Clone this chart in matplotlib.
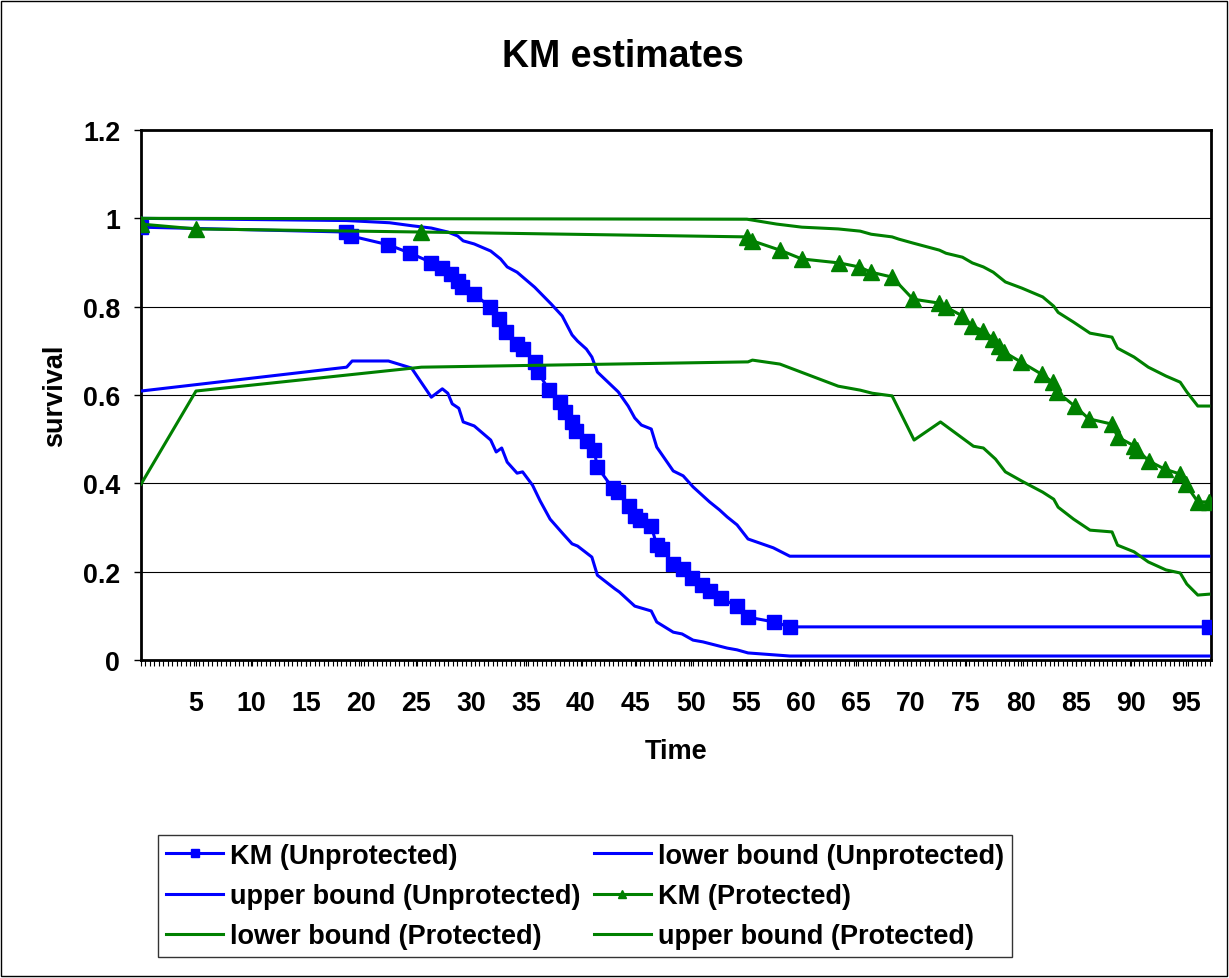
import numpy as np
import matplotlib
matplotlib.use('Agg')
import matplotlib.pyplot as plt
from matplotlib.patches import Rectangle

plt.rcParams['font.family'] = ['Liberation Sans', 'DejaVu Sans']
plt.rcParams['font.weight'] = 'bold'

# KM estimate, unprotected group
km_u_t = [0, 18.6, 19.1, 22.5, 24.5, 26.4, 27.4, 28.2, 28.8, 29.2, 30.3, 31.7,
          32.6, 33.2, 34.2, 34.7, 35.8, 36.1, 37.1, 38.1, 38.6, 39.2, 39.6, 40.6,
          41.2, 41.5, 42.9, 43.4, 44.4, 44.9, 45.4, 46.4, 46.9, 47.4, 48.4, 49.3,
          50.1, 51.0, 51.7, 52.7, 54.2, 55.2, 57.6, 59.0, 97.1]
km_u_s = [0.98, 0.969, 0.96, 0.94, 0.921, 0.90, 0.888, 0.874, 0.858, 0.844, 0.829, 0.80,
          0.772, 0.743, 0.716, 0.704, 0.675, 0.652, 0.611, 0.584, 0.561, 0.539, 0.518, 0.496,
          0.475, 0.437, 0.389, 0.38, 0.349, 0.326, 0.317, 0.303, 0.26, 0.251, 0.217, 0.206,
          0.185, 0.17, 0.156, 0.14, 0.122, 0.097, 0.086, 0.075, 0.075]

lo_u_t = [0, 18.7, 19.2, 22.5, 24.6, 26.4, 27.4, 27.9, 28.3, 28.9, 29.3, 30.3, 31.8,
          32.3, 32.8, 33.3, 34.2, 34.7, 35.6, 36.3, 37.2, 38.4, 39.2, 39.7, 41.0, 41.5,
          43.1, 43.5, 44.9, 46.4, 46.9, 48.4, 49.2, 50.2, 51.1, 53.3, 54.2, 55.2, 59.0, 97.1]
lo_u_s = [0.609, 0.663, 0.677, 0.677, 0.661, 0.595, 0.614, 0.604, 0.58, 0.57, 0.539, 0.53, 0.498,
          0.471, 0.48, 0.448, 0.423, 0.426, 0.396, 0.36, 0.319, 0.285, 0.263, 0.258, 0.233, 0.192,
          0.161, 0.154, 0.122, 0.111, 0.086, 0.063, 0.059, 0.045, 0.041, 0.027, 0.023, 0.016, 0.009, 0.009]

up_u_t = [0, 18.7, 22.6, 24.7, 26.4, 27.9, 28.8, 29.3, 30.3, 31.8, 32.7, 33.3, 34.2,
          35.8, 37.3, 38.3, 39.2, 39.7, 40.5, 41.0, 41.5, 43.4, 44.3, 44.9, 45.5, 46.4,
          46.9, 48.4, 49.3, 50.2, 51.7, 52.6, 53.3, 54.2, 55.2, 57.5, 59.0, 97.1]
up_u_s = [1.0, 0.995, 0.99, 0.983, 0.978, 0.969, 0.96, 0.949, 0.942, 0.926, 0.908, 0.89, 0.878,
          0.844, 0.806, 0.779, 0.736, 0.722, 0.704, 0.686, 0.652, 0.607, 0.575, 0.548, 0.532, 0.523,
          0.482, 0.428, 0.417, 0.392, 0.358, 0.34, 0.324, 0.306, 0.274, 0.254, 0.235, 0.235]

# KM estimate, protected group
km_p_t = [0, 5.0, 25.5, 55.1, 55.6, 58.1, 60.1, 63.5, 65.3, 66.4, 68.3, 70.2, 72.6,
          73.2, 74.7, 75.6, 76.6, 77.5, 78.0, 78.5, 80.0, 81.9, 82.9, 83.3, 84.9, 86.2,
          88.3, 88.8, 90.3, 90.6, 91.7, 93.1, 94.5, 95.0, 96.1, 97.1]
km_p_s = [0.987, 0.976, 0.969, 0.958, 0.949, 0.928, 0.908, 0.899, 0.89, 0.878, 0.867, 0.817, 0.808,
          0.799, 0.779, 0.756, 0.745, 0.727, 0.711, 0.697, 0.675, 0.647, 0.629, 0.607, 0.575, 0.546,
          0.534, 0.505, 0.485, 0.475, 0.45, 0.432, 0.421, 0.398, 0.358, 0.358]

lo_p_t = [0, 5.0, 25.5, 55.2, 55.6, 58.1, 63.4, 65.4, 66.5, 68.3, 70.3, 72.7, 75.7,
          76.6, 77.7, 78.6, 80.1, 82.0, 83.0, 83.4, 84.8, 86.3, 88.3, 88.8, 90.3, 91.6,
          93.2, 94.5, 95.1, 96.1, 97.1]
lo_p_s = [0.398, 0.609, 0.663, 0.675, 0.679, 0.67, 0.62, 0.611, 0.604, 0.598, 0.498, 0.539, 0.484,
          0.48, 0.455, 0.426, 0.405, 0.38, 0.364, 0.346, 0.319, 0.294, 0.29, 0.26, 0.245, 0.222,
          0.204, 0.197, 0.172, 0.147, 0.149]

up_p_t = [0, 55.1, 55.6, 57.8, 60.1, 63.4, 65.4, 66.4, 68.3, 68.9, 70.2, 72.6, 73.2,
          74.7, 75.6, 76.6, 77.5, 78.6, 80.1, 82.0, 83.0, 83.4, 84.8, 86.3, 88.3, 88.8,
          90.3, 91.6, 93.2, 94.5, 95.1, 96.1, 97.1]
up_p_s = [1.0, 0.998, 0.996, 0.987, 0.98, 0.976, 0.971, 0.964, 0.958, 0.953, 0.944, 0.928, 0.921,
          0.912, 0.899, 0.89, 0.878, 0.856, 0.842, 0.822, 0.801, 0.787, 0.765, 0.74, 0.731, 0.706,
          0.686, 0.663, 0.643, 0.629, 0.607, 0.575, 0.575]

x_ticks = list(range(5, 100, 5))
y_ticks = [0, 0.2, 0.4, 0.6, 0.8, 1, 1.2]
y_tick_labels = ['0', '0.2', '0.4', '0.6', '0.8', '1', '1.2']

BLUE = '#0000ff'
GREEN = '#008000'

fig = plt.figure(figsize=(12.29, 9.79), dpi=100)
fig.patch.set_facecolor('white')
ax = fig.add_axes([141 / 1229, 1 - 661 / 979, 1070 / 1229, 530 / 979])

lw = 2.2
h = []
h += ax.plot(km_u_t, km_u_s, color=BLUE, lw=lw, marker='s', ms=10, mec=BLUE, mfc=BLUE,
             label='KM (Unprotected)', zorder=3)
h += ax.plot(lo_u_t, lo_u_s, color=BLUE, lw=lw, label='lower bound (Unprotected)', zorder=3)
h += ax.plot(up_u_t, up_u_s, color=BLUE, lw=lw, label='upper bound (Unprotected)', zorder=3)
h += ax.plot(km_p_t, km_p_s, color=GREEN, lw=lw, marker='^', ms=11, mec=GREEN, mfc=GREEN,
             label='KM (Protected)', zorder=3)
h += ax.plot(lo_p_t, lo_p_s, color=GREEN, lw=lw, label='lower bound (Protected)', zorder=3)
h += ax.plot(up_p_t, up_p_s, color=GREEN, lw=lw, label='upper bound (Protected)', zorder=3)

ax.set_xlim(0, 97.3)
ax.set_ylim(0, 1.2)
ax.set_yticks(y_ticks)
ax.set_yticklabels(y_tick_labels)
ax.set_xticks(x_ticks)
ax.set_xticks(np.arange(0, 97.3, 0.405), minor=True)
for g in y_ticks[1:-1]:
    ax.axhline(g, color='black', lw=0.8, zorder=1)

for s in ax.spines.values():
    s.set_linewidth(2)
    s.set_color('black')
ax.tick_params(axis='y', direction='out', length=5, width=1, labelsize=19.3, pad=10)
ax.tick_params(axis='x', which='both', direction='out', length=4.5, width=0.8,
               labelsize=19.3, pad=17)

fig.text(623 / 1229, 1 - 67 / 979, 'KM estimates', ha='center', va='baseline',
         fontsize=27, fontweight='bold')
fig.text(676 / 1229, 1 - 759 / 979, 'Time', ha='center', va='baseline',
         fontsize=19.5, fontweight='bold')
fig.text(62 / 1229, 1 - 396 / 979, 'survival', ha='center', va='baseline',
         rotation=90, rotation_mode='anchor', fontsize=19.5, fontweight='bold')

# legend laid out row by row: two columns, three rows
order = [0, 2, 4, 1, 3, 5]
leg = fig.legend([h[i] for i in order], [h[i].get_label() for i in order],
                 loc='center', bbox_to_anchor=(585 / 1229, 1 - 897 / 979),
                 ncol=2, fontsize=19.5, frameon=True, fancybox=False, shadow=False,
                 handlelength=2.1, handletextpad=0.25, columnspacing=0.5,
                 labelspacing=0.53, borderpad=0.3, markerscale=0.55, borderaxespad=0)
leg.get_frame().set_edgecolor('black')
leg.get_frame().set_linewidth(1)

fig.patches.append(Rectangle((0.001, 0.002), 0.997, 0.996, transform=fig.transFigure,
                             fill=False, edgecolor='black', lw=1))

fig.savefig('out.png', dpi=100, facecolor='white')
